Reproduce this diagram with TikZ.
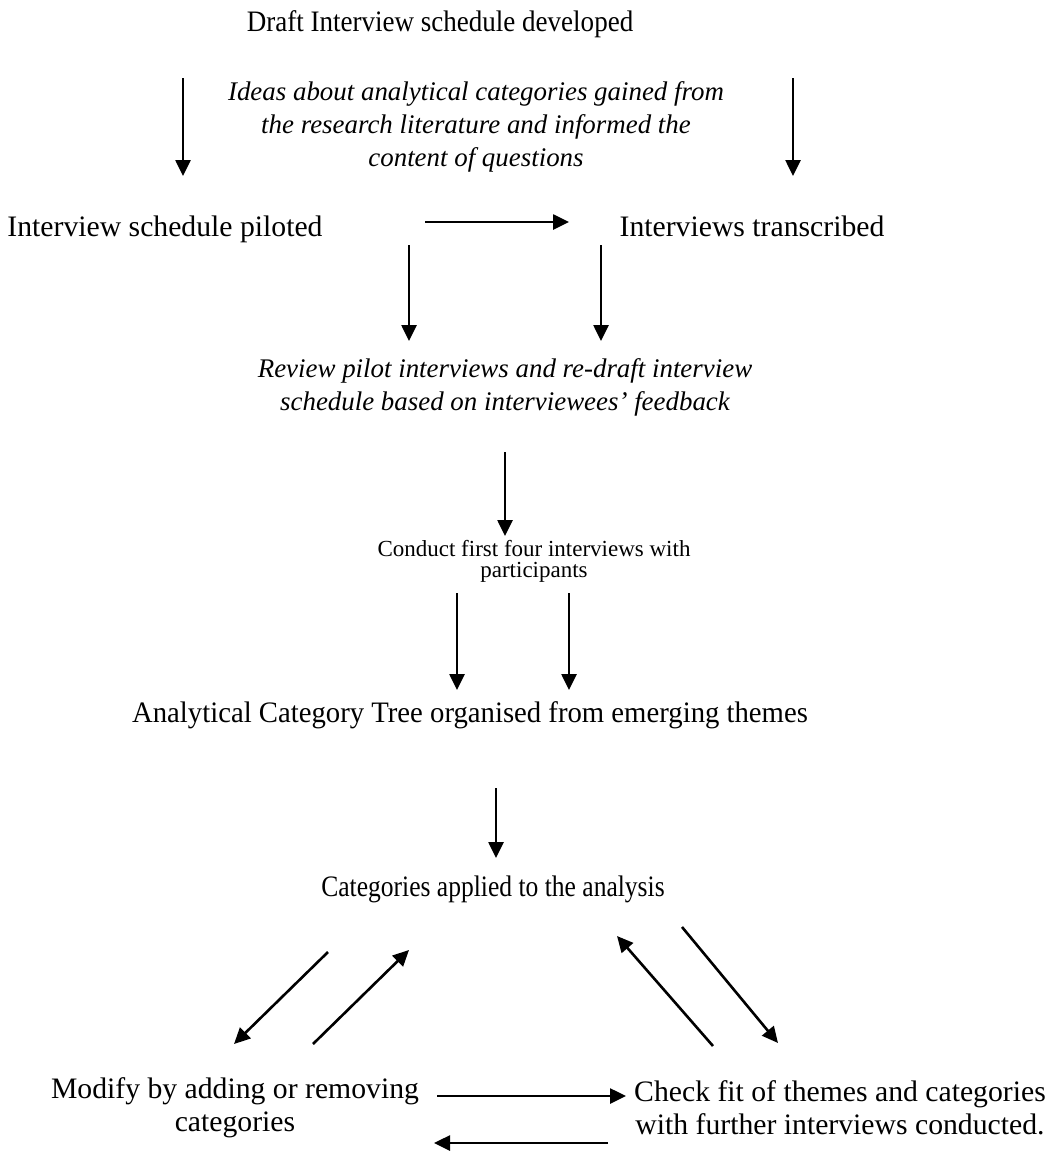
\documentclass[tikz,border=0pt]{standalone}
\usepackage{fontspec}
\setmainfont{Liberation Serif}
\usetikzlibrary{arrows.meta}
\begin{document}
\begin{tikzpicture}[x=1pt,y=-1pt,
  main/.style={font=\fontsize{29.7}{33}\selectfont, inner sep=0pt, align=center, anchor=base},
  note/.style={font=\fontsize{26.9}{33}\selectfont\itshape, inner sep=0pt, align=center},
  small/.style={font=\fontsize{23}{21}\selectfont, inner sep=0pt, align=center},
  arr/.style={line width=2.6pt, -{Triangle[length=16pt,width=15pt]}}]
\useasboundingbox (0,0) rectangle (1056,1151);

\node[main] (draft) at (440,31) {\scalebox{0.91}[1]{Draft Interview schedule developed}};
\node[note] (ideas) at (476,127) {Ideas about analytical categories gained from\\the research literature and informed the\\content of questions};
\node[main] (piloted) at (165,236) {Interview schedule piloted};
\node[main] (transcribed) at (752,236) {Interviews transcribed};
\node[note] (review) at (505,387) {Review pilot interviews and re-draft interview\\schedule based on interviewees' feedback};
\node[small] (conduct) at (534,561) {Conduct first four interviews with\\participants};
\node[main] (tree) at (470,722) {\scalebox{0.967}[1]{Analytical Category Tree organised from emerging themes}};
\node[main] (applied) at (493,896) {\scalebox{0.86}[1]{Categories applied to the analysis}};
\node[main, anchor=center] (modify) at (235,1108) {Modify by adding or removing\\categories};
\node[main, anchor=center] (check) at (840,1108) {Check fit of themes and categories\\with further interviews conducted.};

\coordinate (a1s) at (183,78);  \coordinate (a1e) at (183,176);
\coordinate (a2s) at (793,78);  \coordinate (a2e) at (793,176);
\coordinate (a3s) at (425,222); \coordinate (a3e) at (569,222);
\coordinate (a4s) at (409,245); \coordinate (a4e) at (409,341);
\coordinate (a5s) at (601,245); \coordinate (a5e) at (601,341);
\coordinate (a6s) at (505,452); \coordinate (a6e) at (505,536);
\coordinate (a7s) at (457,593); \coordinate (a7e) at (457,690);
\coordinate (a8s) at (569,593); \coordinate (a8e) at (569,690);
\coordinate (a9s) at (496,788); \coordinate (a9e) at (496,858);
\coordinate (b1s) at (328,952); \coordinate (b1e) at (234,1044);
\coordinate (b2s) at (313,1044);\coordinate (b2e) at (409,950);
\coordinate (b3s) at (713,1046);\coordinate (b3e) at (617,936);
\coordinate (b4s) at (682,927); \coordinate (b4e) at (778,1043);
\coordinate (b5s) at (437,1096);\coordinate (b5e) at (626,1096);
\coordinate (b6s) at (608,1143);\coordinate (b6e) at (434,1143);

\foreach \n in {a1,a2,a3,a4,a5,a6,a7,a8,a9,b1,b2,b3,b4,b5,b6}
  \draw[arr] (\n s) -- (\n e);
\end{tikzpicture}
\end{document}
